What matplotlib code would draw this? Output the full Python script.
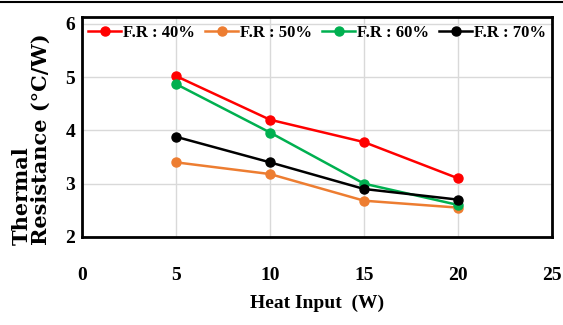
import matplotlib
matplotlib.use('Agg')
import matplotlib.pyplot as plt
from matplotlib.lines import Line2D

heat_input = [5, 10, 15, 20]
fr_40 = [5.02, 4.2, 3.78, 3.1]
fr_50 = [3.4, 3.18, 2.68, 2.55]
fr_60 = [4.87, 3.96, 3.0, 2.6]
fr_70 = [3.88, 3.4, 2.9, 2.7]

labels = ['F.R : 40%', 'F.R : 50%', 'F.R : 60%', 'F.R : 70%']
colors = ['#FF0000', '#ED7D31', '#00B050', '#000000']
series = [fr_40, fr_50, fr_60, fr_70]

plt.rcParams['font.family'] = 'Liberation Serif'
plt.rcParams['font.weight'] = 'bold'

fig = plt.figure(figsize=(5.63, 3.25), dpi=100)
ax = fig.add_axes([0.1456, 0.271, 0.835, 0.677])

for y, lab, c in zip(series, labels, colors):
    ax.plot(heat_input, y, color=c, lw=1.8, marker='o', ms=6.5, label=lab)

ax.set_xlim(0, 25)
ax.set_ylim(2, 6.13)
ax.set_xticks([0, 5, 10, 15, 20, 25])
ax.set_yticks([2, 3, 4, 5, 6])
ax.grid(True, color='#D9D9D9', lw=1)
ax.set_axisbelow(True)
ax.tick_params(length=0, labelsize=14)
ax.tick_params(axis='x', pad=22)
ax.tick_params(axis='y', pad=5)
for s in ax.spines.values():
    s.set_linewidth(2)
    s.set_color('black')

ax.set_xlabel('Heat Input  (W)', fontsize=14, fontweight='bold', labelpad=7)
# stretched look of the original label -> wider serif face
fig.text(0.02, 0.245, 'Thermal\nResistance (\u00b0C/W)', rotation=90,
         family='DejaVu Serif', fontsize=15, fontweight='bold',
         va='bottom', ha='left', multialignment='left', linespacing=1.0)

ax.legend(loc='upper center', ncol=4, frameon=False, fontsize=12,
          handlelength=2.0, handletextpad=0.1, columnspacing=0.6,
          borderaxespad=0.2, bbox_to_anchor=(0.5, 1.01))

fig.add_artist(Line2D([0, 1], [0.994, 0.994], transform=fig.transFigure,
                      color='black', lw=1.5))

fig.savefig('out.png', dpi=100)
